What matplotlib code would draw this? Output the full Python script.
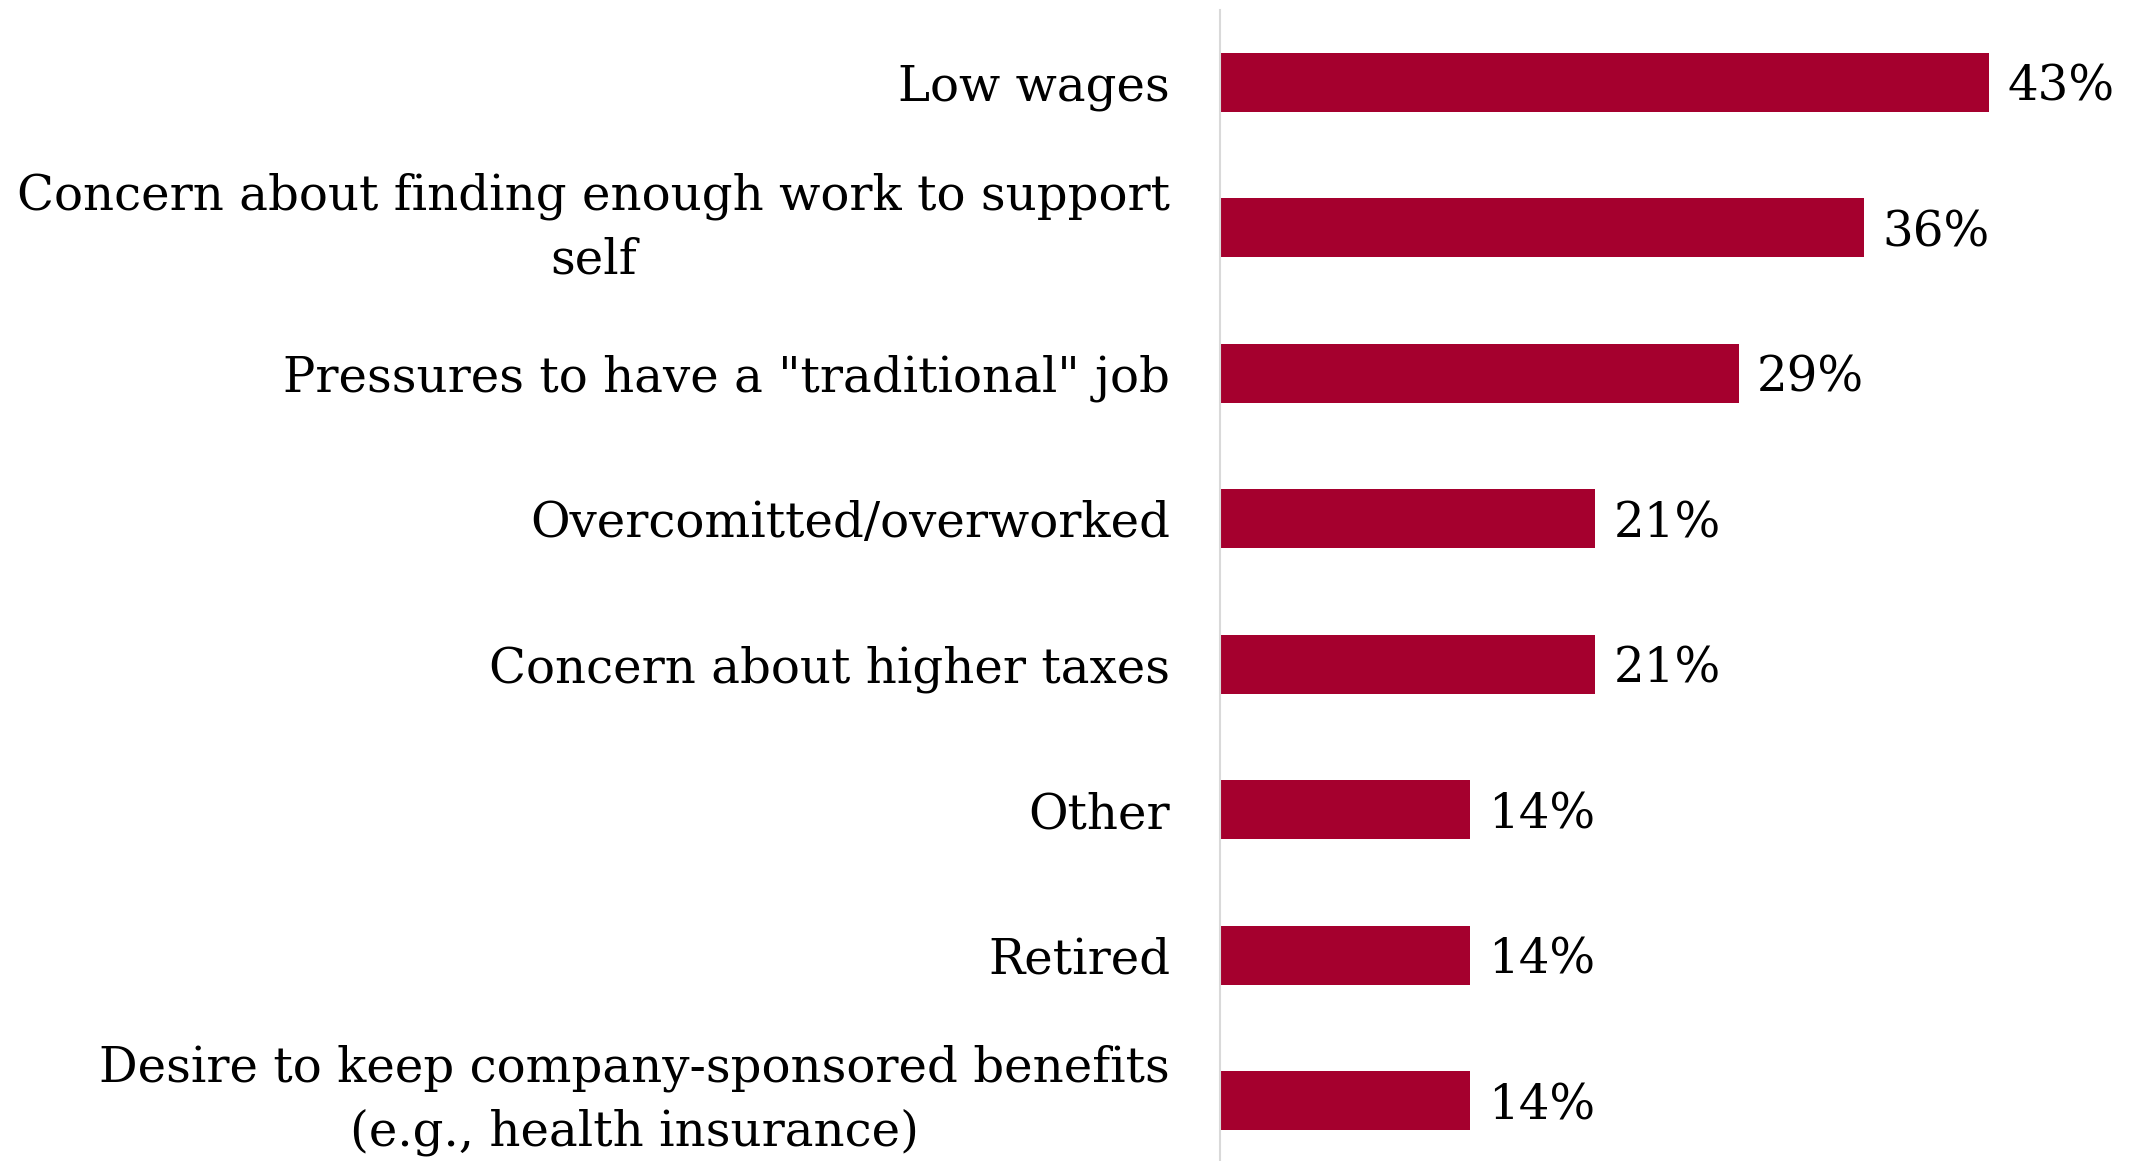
import matplotlib
matplotlib.use("Agg")
import matplotlib.pyplot as plt

categories = [
    "Low wages",
    "Concern about finding enough work to support\nself",
    'Pressures to have a "traditional" job',
    "Overcomitted/overworked",
    "Concern about higher taxes",
    "Other",
    "Retired",
    "Desire to keep company-sponsored benefits\n(e.g., health insurance)",
]
values = [43, 36, 29, 21, 21, 14, 14, 14]
value_labels = ["43%", "36%", "29%", "21%", "21%", "14%", "14%", "14%"]

BAR_COLOR = "#A5002E"
FONT = ["DejaVu Serif"]
FSIZE = 34.75

W, H = 2134, 1161
left_px, top_px = 1219.5, 9.5
fig = plt.figure(figsize=(W / 100, H / 100), dpi=100)
ax = fig.add_axes([left_px / W, 0.0, 1 - left_px / W, 1 - top_px / H])

pos = list(range(len(categories)))
ax.barh(pos, values, height=0.405, color=BAR_COLOR)

ax.set_ylim(7.415, -0.5)
ax.set_xlim(0, (W - left_px) / 17.9)

for p, v, lab in zip(pos, values, value_labels):
    ax.annotate(lab, xy=(v, p), xytext=(18, 0), textcoords="offset pixels",
                ha="left", va="center_baseline", fontsize=FSIZE, family=FONT,
                color="black")

ax.set_yticks(pos)
ax.set_yticklabels(categories, fontsize=FSIZE, family=FONT,
                   multialignment="center", linespacing=1.44)
for t in ax.get_yticklabels():
    if "\n" in t.get_text():
        t.set_va("center")
ax.tick_params(axis="y", length=0, pad=35.6)
ax.set_xticks([])

for s in ["top", "right", "bottom"]:
    ax.spines[s].set_visible(False)
ax.spines["left"].set_color("#D9D9D9")
ax.spines["left"].set_linewidth(1.5)

fig.savefig("out.png", dpi=100, facecolor="white")
